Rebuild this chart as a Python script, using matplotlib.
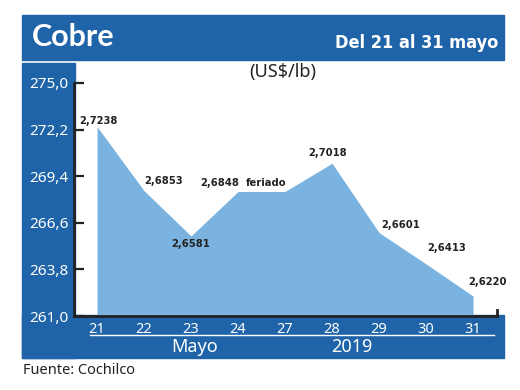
import numpy as np
from matplotlib import pyplot as plt
from matplotlib.patches import Rectangle
from matplotlib.lines import Line2D


#data:
days   = ['21', '22', '23', '24', '27', '28', '29', '30', '31']
values = [2.7238, 2.6853, 2.6581, 2.6848, 2.6848, 2.7018, 2.6601, 2.6413, 2.6220]
labels = ['2,7238', '2,6853', '2,6581', '2,6848', 'feriado', '2,7018', '2,6601', '2,6413', '2,6220']
yticks = [261.0, 263.8, 266.6, 269.4, 272.2, 275.0]

#label offsets in pixels (dx, dy, ha, va)
offs = [(1, 1, 'center', 'bottom'), (0, 5, 'left', 'bottom'), (0, -3, 'center', 'top'),
        (1, 4, 'right', 'bottom'), (1, 4, 'right', 'bottom'), (-4, 5, 'center', 'bottom'),
        (2, 3, 'left', 'bottom'), (1, 11, 'left', 'bottom'), (-5, 9, 'left', 'bottom')]

W, H = 520, 390
dark  = '#1f64a8'
light = '#7ab3e0'
narrow = ['DejaVu Sans']
plain  = ['Noto Sans', 'DejaVu Sans']

def fx(px): return px / W
def fy(py): return 1 - py / H


#plot:
plt.close('all')
fig = plt.figure(figsize=(5.2, 3.9), dpi=100)

#background blocks
for (x0, y0, x1, y1) in [(22, 15, 504, 60), (22, 63, 75, 358), (22, 315, 504, 358)]:
    fig.patches.append(Rectangle((fx(x0), fy(y1)), fx(x1) - fx(x0), fy(y0) - fy(y1),
                                 transform=fig.transFigure, color=dark, zorder=-5))

ax = fig.add_axes([fx(74), fy(316), fx(497) - fx(74), fy(83) - fy(316)])
ax.patch.set_alpha(0)
x = np.arange(len(days))
y = np.array(values) * 100
ax.fill_between(x, y, 261.0, color=light, lw=0)
ax.set_xlim(-0.49, 8.51)
ax.set_ylim(261.0, 275.0)

ax.spines['top'].set_visible(False)
ax.spines['right'].set_bounds(261.0, 261.35)
for s in ['left', 'bottom', 'right']:
    ax.spines[s].set_linewidth(2)
    ax.spines[s].set_color('#222222')

ax.set_yticks(yticks)
ax.set_yticklabels([('%.1f' % v).replace('.', ',') for v in yticks])
ax.tick_params(axis='y', direction='in', length=7, width=1.6, color='#222222',
               labelcolor='white', labelsize=11, pad=4)
ax.set_xticks(x)
ax.set_xticklabels(days)
ax.tick_params(axis='x', length=0, labelcolor='white', labelsize=10.5, pad=4)
for t in ax.get_yticklabels() + ax.get_xticklabels():
    t.set_family(plain)

for i in range(len(days)):
    dx, dy, ha, va = offs[i]
    ax.annotate(labels[i], (x[i], y[i]), xytext=(dx * 0.72, dy * 0.72), textcoords='offset points',
                ha=ha, va=va, fontsize=8, fontweight='bold', fontstretch='condensed',
                color='#222222', family=narrow)

#bottom underline and labels
fig.lines.append(Line2D([fx(90), fx(494)], [fy(335), fy(335)], transform=fig.transFigure,
                        color='white', lw=1))
fig.text(fx(195), fy(347), 'Mayo', color='white', fontsize=13, ha='center', va='center', family=plain)
fig.text(fx(352), fy(347), '2019', color='white', fontsize=13, ha='center', va='center', family=plain)

#titles
fig.text(fx(32), fy(37), 'Cobre', color='white', fontsize=22, fontweight='bold',
         ha='left', va='center', family=['Lato', 'DejaVu Sans'])
fig.text(fx(498), fy(43), 'Del 21 al 31 mayo', color='white', fontsize=13, fontweight='bold',
         fontstretch='condensed', ha='right', va='center', family=narrow)
fig.text(fx(283), fy(72), '(US$/lb)', color='#222222', fontsize=13, ha='center', va='center', family=plain)
fig.text(fx(23), fy(370), 'Fuente: Cochilco', color='#222222', fontsize=10.5, ha='left', va='center', family=plain)

fig.savefig('out.png', dpi=100)
